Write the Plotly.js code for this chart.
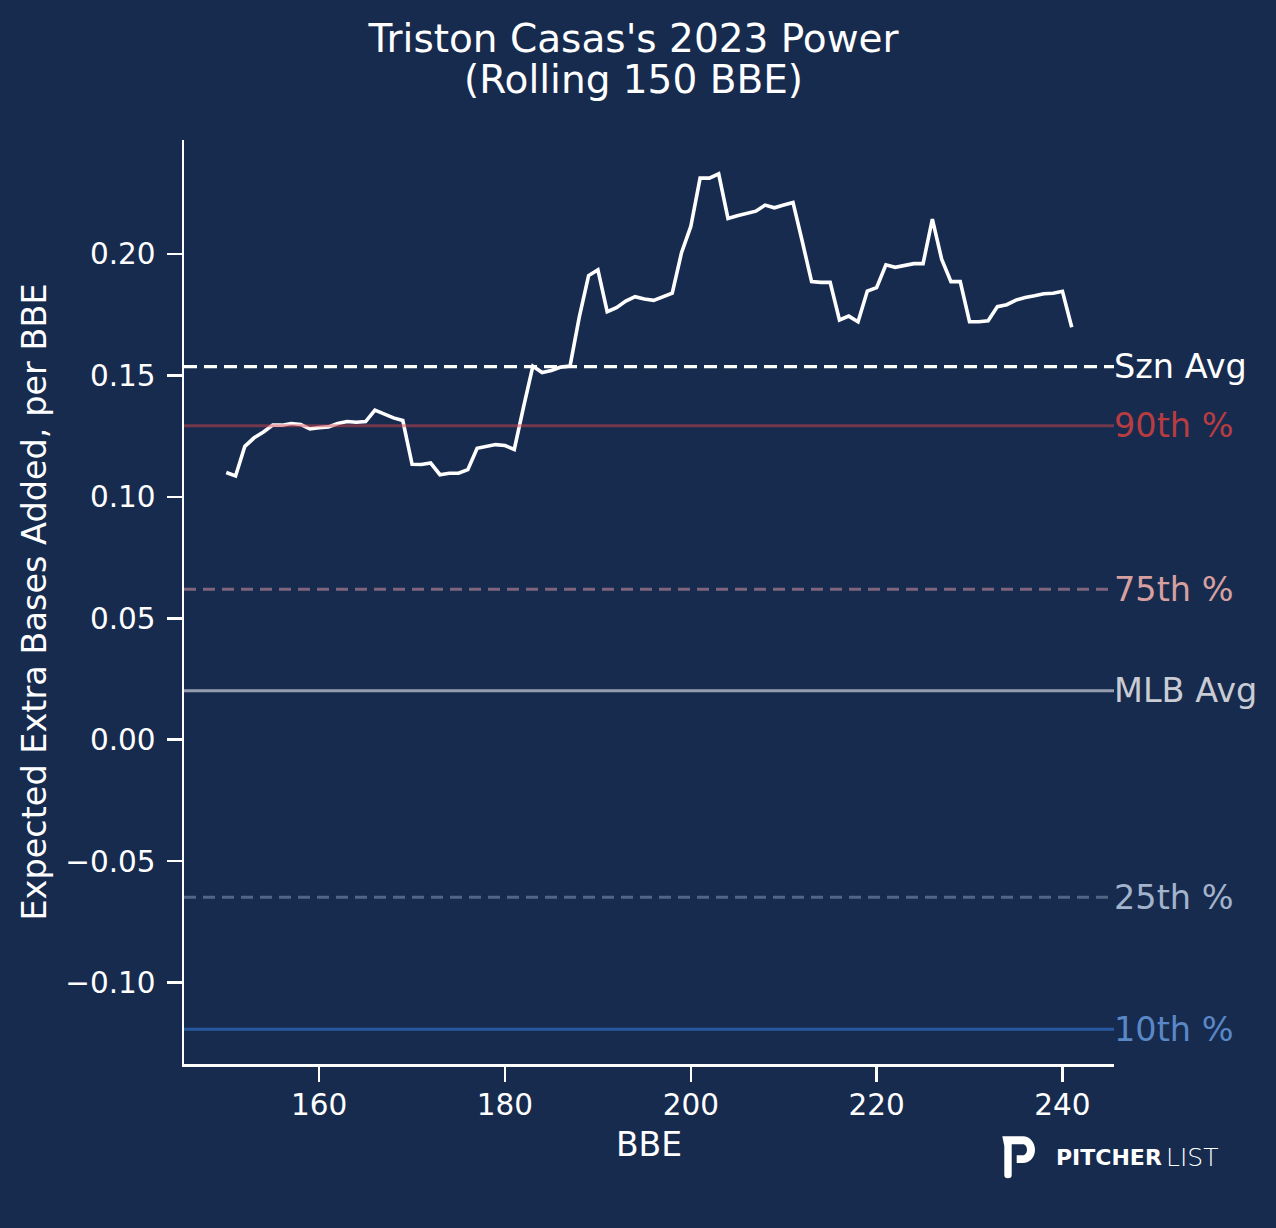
<!DOCTYPE html>
<html>
<head>
<meta charset="utf-8">
<script src="https://cdn.plot.ly/plotly-3.0.1.min.js"></script>
<style>
html,body{margin:0;padding:0;background:#172b4f;}
#chart{width:1276px;height:1228px;}
</style>
</head>
<body>
<div id="chart"></div>
<script>
// Rolling BBE index
var bbe = [150,151,152,153,154,155,156,157,158,159,
           160,161,162,163,164,165,166,167,168,169,
           170,171,172,173,174,175,176,177,178,179,
           180,181,182,183,184,185,186,187,188,189,
           190,191,192,193,194,195,196,197,198,199,
           200,201,202,203,204,205,206,207,208,209,
           210,211,212,213,214,215,216,217,218,219,
           220,221,222,223,224,225,226,227,228,229,
           230,231,232,233,234,235,236,237,238,239,
           240,241];
// Expected extra bases added per BBE (rolling 150)
var xeba = [0.1100,0.1086,0.1208,0.1243,0.1267,0.1295,0.1295,0.1302,0.1298,0.1280,
            0.1285,0.1288,0.1302,0.1310,0.1307,0.1310,0.1357,0.1341,0.1325,0.1314,
            0.1134,0.1133,0.1139,0.1091,0.1097,0.1097,0.1112,0.1200,0.1208,0.1215,
            0.1211,0.1195,0.1370,0.1538,0.1512,0.1520,0.1534,0.1538,0.1741,0.1911,
            0.1934,0.1762,0.1779,0.1806,0.1824,0.1814,0.1809,0.1824,0.1838,0.2005,
            0.2113,0.2312,0.2312,0.2330,0.2146,0.2157,0.2168,0.2176,0.2201,0.2190,
            0.2201,0.2212,0.2051,0.1886,0.1883,0.1883,0.1728,0.1744,0.1721,0.1847,
            0.1861,0.1955,0.1945,0.1953,0.1960,0.1960,0.2143,0.1978,0.1886,0.1886,
            0.1721,0.1721,0.1725,0.1783,0.1791,0.1810,0.1821,0.1828,0.1836,0.1838,
            0.1846,0.1698];

// Reference lines
var refLabels = ["10th %","25th %","MLB Avg","75th %","90th %","Szn Avg"];
var refValues = [-0.1192,-0.0648,0.0202,0.0620,0.1293,0.1536];
var refLineColors = ["rgba(45,100,180,0.8)","rgba(140,160,190,0.5)","rgba(205,208,215,0.7)",
                     "rgba(230,160,170,0.5)","rgba(210,70,75,0.5)","#ffffff"];
var refTextColors = ["#5a88c6","#a3b3cb","#c9ccd3","#d7a0a0","#b83c40","#ffffff"];
var refDash = ["solid","12px,7px","solid","12px,7px","solid","13px,7px"];

var titleLines = ["Triston Casas's 2023 Power", "(Rolling 150 BBE)"];
var xTicks = [160,180,200,220,240];
var yTicks = [-0.10,-0.05,0.00,0.05,0.10,0.15,0.20];

var BG = "#172b4f";
var FONT = "DejaVu Sans, sans-serif";

var L = 184, R = 1114, T = 140, B = 1064, W = 1276, H = 1228;
function px(xp){ return +((xp - L)/(R - L)).toFixed(5); }
function py(yp){ return +((B - yp)/(B - T)).toFixed(5); }

var shapes = [];
var annotations = [];
for (var i = 0; i < refValues.length; i++) {
  shapes.push({
    type: "line", xref: "paper", yref: "y", x0: 0, x1: 1,
    y0: refValues[i], y1: refValues[i], layer: "above",
    line: {color: refLineColors[i], width: (i === 5 ? 3.2 : 3), dash: refDash[i]}
  });
  annotations.push({
    xref: "paper", yref: "y", x: 1, y: refValues[i], xanchor: "left", yanchor: "middle",
    text: refLabels[i], showarrow: false, xshift: -1, borderpad: 0,
    font: {family: FONT, size: 33.5, color: refTextColors[i]}
  });
}

// second title line
annotations.push({
  xref: "paper", yref: "paper", x: px(634), y: py(80), xanchor: "center", yanchor: "middle",
  text: titleLines[1], showarrow: false, borderpad: 0,
  font: {family: FONT, size: 39, color: "#ffffff"}
});

// PitcherList logo icon (decoration)
var cx = 1023, rx = 12, ry = 13.4, cyy = 1149.7, k = 0.5523;
var iconPath = "M" + px(1002.3) + "," + py(1136.3) +
  " L" + px(cx) + "," + py(1136.3) +
  " C" + px(cx + k*rx) + "," + py(1136.3) + " " + px(cx + rx) + "," + py(cyy - k*ry) + " " + px(cx + rx) + "," + py(cyy) +
  " C" + px(cx + rx) + "," + py(cyy + k*ry) + " " + px(cx + k*rx) + "," + py(1163) + " " + px(cx) + "," + py(1163) +
  " L" + px(1016.7) + "," + py(1163) +
  " L" + px(1016.7) + "," + py(1155.2) +
  " L" + px(cx) + "," + py(1155.2) +
  " C" + px(cx + 2.2) + "," + py(1155.2) + " " + px(cx + 4) + "," + py(1152.7) + " " + px(cx + 4) + "," + py(cyy) +
  " C" + px(cx + 4) + "," + py(1146.7) + " " + px(cx + 2.2) + "," + py(1144.2) + " " + px(cx) + "," + py(1144.2) +
  " L" + px(1011.7) + "," + py(1144.2) +
  " L" + px(1011.7) + "," + py(1175) +
  " Q" + px(1011.7) + "," + py(1178.3) + " " + px(1008) + "," + py(1178.3) +
  " Q" + px(1004.3) + "," + py(1178.3) + " " + px(1004.3) + "," + py(1175) +
  " L" + px(1004.3) + "," + py(1146) + " Z";
shapes.push({type: "path", xref: "paper", yref: "paper", path: iconPath,
  fillcolor: "#ffffff", line: {width: 0}, layer: "above"});

annotations.push({
  xref: "paper", yref: "paper", x: px(1055), y: py(1158), xanchor: "left", yanchor: "middle",
  text: "PITCHER", showarrow: false, borderpad: 0,
  font: {family: FONT, size: 22, color: "#ffffff", weight: 700}
});
annotations.push({
  xref: "paper", yref: "paper", x: px(1165), y: py(1158), xanchor: "left", yanchor: "middle",
  text: "LIST", showarrow: false, borderpad: 0,
  font: {family: FONT, size: 25, color: "#ffffff", weight: 300}
});

var traces = [{
  type: "scatter", mode: "lines", x: bbe, y: xeba,
  line: {color: "#ffffff", width: 3.6}, hoverinfo: "x+y", showlegend: false
}];

var layout = {
  width: W, height: H,
  paper_bgcolor: BG, plot_bgcolor: BG,
  margin: {l: L, r: W - R, t: T, b: H - B, pad: 0},
  showlegend: false,
  font: {family: FONT, color: "#ffffff"},
  title: {
    text: titleLines[0],
    x: 0.4965, xanchor: "center", xref: "container",
    y: 1 - 25/1228, yanchor: "top", yref: "container",
    font: {family: FONT, size: 39, color: "#ffffff"}
  },
  xaxis: {
    range: [145.45, 245.55], tickvals: xTicks, ticktext: xTicks.map(String),
    showgrid: false, zeroline: false, showline: true, linecolor: "#ffffff", linewidth: 2.5,
    ticks: "outside", ticklen: 15, tickwidth: 2.5, tickcolor: "#ffffff",
    ticklabelstandoff: -2,
    tickfont: {family: FONT, size: 29.5, color: "#ffffff"},
    title: {text: "BBE", font: {family: FONT, size: 33, color: "#ffffff"}, standoff: 12}
  },
  yaxis: {
    range: [-0.1335, 0.2469], tickvals: yTicks, tickformat: ".2f",
    showgrid: false, zeroline: false, showline: true, linecolor: "#ffffff", linewidth: 2.5,
    ticks: "outside", ticklen: 15, tickwidth: 2.5, tickcolor: "#ffffff",
    ticklabelstandoff: 5,
    tickfont: {family: FONT, size: 29.5, color: "#ffffff"},
    title: {text: "Expected Extra Bases Added, per BBE", font: {family: FONT, size: 33.5, color: "#ffffff"}, standoff: 9}
  },
  shapes: shapes,
  annotations: annotations
};

Plotly.newPlot("chart", traces, layout, {displayModeBar: false, staticPlot: true});
</script>
</body>
</html>
